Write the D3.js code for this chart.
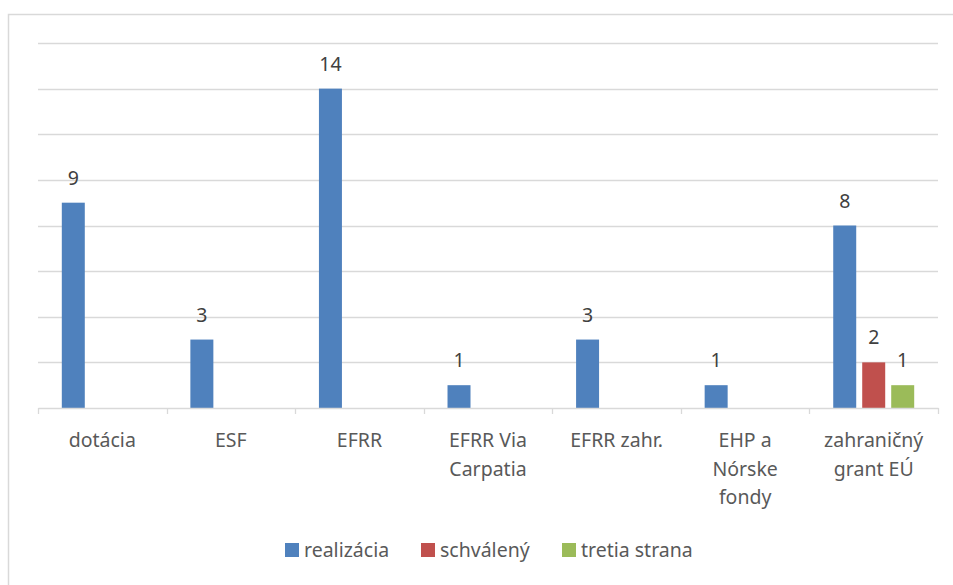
<!DOCTYPE html>
<html>
<head>
<meta charset="utf-8">
<script src="https://cdn.jsdelivr.net/npm/d3@7"></script>
<style>
  body { margin: 0; background: #fff; }
  text { font-family: "Noto Sans", "Liberation Sans", sans-serif; }
</style>
</head>
<body>
<div id="chart"></div>
<script>
// categories and their wrapped tick labels
const categories = ["dotácia", "ESF", "EFRR", "EFRR Via Carpatia", "EFRR zahr.", "EHP a Nórske fondy", "zahraničný grant EÚ"];
const tickLabels = [["dotácia"], ["ESF"], ["EFRR"], ["EFRR Via", "Carpatia"], ["EFRR zahr."], ["EHP a", "Nórske", "fondy"], ["zahraničný", "grant EÚ"]];

const seriesNames = ["realizácia", "schválený", "tretia strana"];
const seriesColors = ["#4f81bd", "#c0504d", "#9bbb59"];
const realizacia = [9, 3, 14, 1, 3, 1, 8];
const schvaleny = [null, null, null, null, null, null, 2];
const tretiaStrana = [null, null, null, null, null, null, 1];
const yTicks = [0, 2, 4, 6, 8, 10, 12, 14, 16];

const seriesValues = [realizacia, schvaleny, tretiaStrana];

const width = 953, height = 585;
const margin = { top: 43, right: 15, bottom: 177, left: 38 };
const innerW = width - margin.left - margin.right;
const innerH = height - margin.top - margin.bottom;
const fontSize = "19.5px";

const svg = d3.select("#chart")
  .append("svg")
  .attr("width", width)
  .attr("height", height);

// outer chart frame
svg.append("rect")
  .attr("x", 8.5)
  .attr("y", 14.5)
  .attr("width", 960)
  .attr("height", 600)
  .attr("fill", "none")
  .attr("stroke", "#d9d9d9")
  .attr("stroke-width", 1.5);

const chart = svg.append("g")
  .attr("transform", `translate(${margin.left},${margin.top})`);

const x0 = d3.scaleBand().domain(categories).range([0, innerW]).padding(0);
const groupPad = 23.8;
const x1 = d3.scaleBand()
  .domain(seriesNames)
  .range([groupPad, x0.bandwidth() - groupPad])
  .paddingInner(0.207);
const y = d3.scaleLinear().domain([0, 16]).range([innerH, 0]);

// gridlines
chart.append("g")
  .selectAll("line")
  .data(yTicks.filter(d => d > 0))
  .join("line")
  .attr("x1", 0)
  .attr("x2", innerW)
  .attr("y1", d => Math.round(y(d)) + 0.5)
  .attr("y2", d => Math.round(y(d)) + 0.5)
  .attr("stroke", "#d9d9d9")
  .attr("stroke-width", 1.3);

// bars
const groups = chart.selectAll(".group")
  .data(categories)
  .join("g")
  .attr("class", "group")
  .attr("transform", d => `translate(${x0(d)},0)`);

const barData = (c, i) => seriesNames
  .map((s, k) => ({ s, k, v: seriesValues[k][i] }))
  .filter(d => d.v != null);

groups.selectAll("rect")
  .data(barData)
  .join("rect")
  .attr("x", d => x1(d.s))
  .attr("y", d => y(d.v))
  .attr("width", x1.bandwidth())
  .attr("height", d => innerH - y(d.v))
  .attr("fill", d => seriesColors[d.k]);

groups.selectAll(".val")
  .data(barData)
  .join("text")
  .attr("class", "val")
  .attr("x", d => x1(d.s) + x1.bandwidth() / 2)
  .attr("y", d => y(d.v) - 18)
  .attr("text-anchor", "middle")
  .attr("fill", "#404040")
  .style("font-size", fontSize)
  .text(d => d.v);

// x axis
const xAxis = d3.axisBottom(x0)
  .tickSize(0)
  .tickFormat("");
const xAxisG = chart.append("g")
  .attr("transform", `translate(0,${innerH})`)
  .call(xAxis);
xAxisG.select(".domain").attr("stroke", "#d9d9d9").attr("stroke-width", 1.3);

// category separator ticks
chart.append("g")
  .selectAll("line")
  .data(d3.range(categories.length + 1))
  .join("line")
  .attr("x1", i => Math.round(i * x0.step()) + 0.5)
  .attr("x2", i => Math.round(i * x0.step()) + 0.5)
  .attr("y1", innerH)
  .attr("y2", innerH + 6)
  .attr("stroke", "#d9d9d9")
  .attr("stroke-width", 1.3);

chart.append("g")
  .selectAll("text")
  .data(categories)
  .join("text")
  .attr("x", d => x0(d) + x0.bandwidth() / 2)
  .attr("y", innerH + 39)
  .attr("text-anchor", "middle")
  .attr("fill", "#595959")
  .style("font-size", fontSize)
  .each(function (d, i) {
    d3.select(this).selectAll("tspan")
      .data(tickLabels[i])
      .join("tspan")
      .attr("x", x0(d) + x0.bandwidth() / 2)
      .attr("dy", (t, j) => (j === 0 ? 0 : 28.5))
      .text(t => t);
  });

// legend
const legendX = [0, 136, 277];
const legend = svg.append("g")
  .attr("transform", "translate(285,543)");
const li = legend.selectAll("g")
  .data(seriesNames)
  .join("g")
  .attr("transform", (d, i) => `translate(${legendX[i]},0)`);
li.append("rect")
  .attr("width", 14)
  .attr("height", 14)
  .attr("fill", (d, i) => seriesColors[i]);
li.append("text")
  .attr("x", 19)
  .attr("y", 14)
  .attr("fill", "#595959")
  .style("font-size", fontSize)
  .text(d => d);
</script>
</body>
</html>
